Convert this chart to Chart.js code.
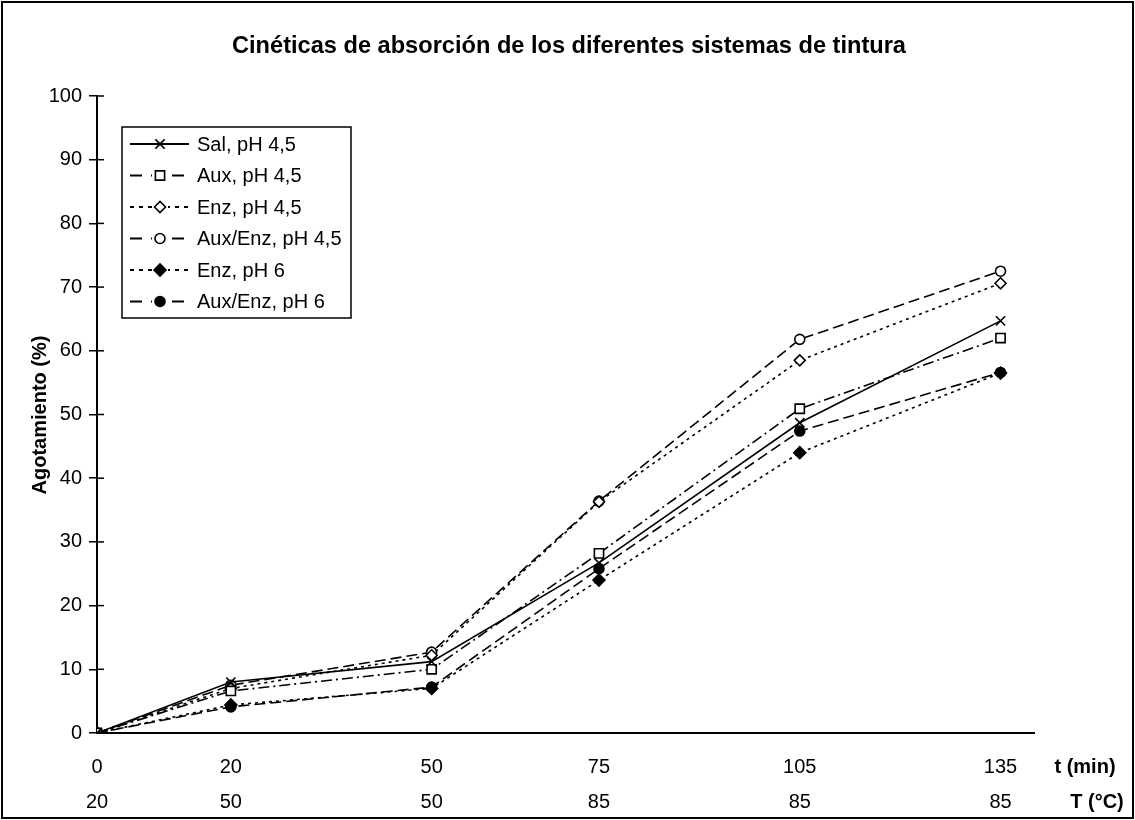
<!DOCTYPE html>
<html>
<head>
<meta charset="utf-8">
<script src="https://cdn.jsdelivr.net/npm/chart.js@4.4.1/dist/chart.umd.min.js"></script>
<style>
  html, body { margin: 0; padding: 0; background: #fff; }
  #wrap { width: 1135px; height: 820px; position: relative; }
</style>
</head>
<body>
<div id="wrap"><canvas id="chart" width="1135" height="820"></canvas></div>
<script>
// ---- data ----
const tLabels = [0, 20, 50, 75, 105, 135];      // t (min)
const TLabels = [20, 50, 50, 85, 85, 85];       // T (°C)
const yTicks = [0, 10, 20, 30, 40, 50, 60, 70, 80, 90, 100];

const seriesNames = ['Sal, pH 4,5', 'Aux, pH 4,5', 'Enz, pH 4,5', 'Aux/Enz, pH 4,5', 'Enz, pH 6', 'Aux/Enz, pH 6'];
const sal45    = [0, 8.0, 11.2, 26.7, 48.7, 64.7];
const aux45    = [0, 6.6, 10.0, 28.2, 50.9, 62.0];
const enz45    = [0, 7.0, 12.2, 36.3, 58.5, 70.6];
const auxEnz45 = [0, 7.5, 12.7, 36.4, 61.8, 72.5];
const enz6     = [0, 4.4, 7.0, 24.0, 44.0, 56.5];
const auxEnz6  = [0, 4.1, 7.2, 25.8, 47.4, 56.6];

const FONT = "'Liberation Sans', Arial, sans-serif";

// style per series: marker, fill, dash
const styles = [
  { pointStyle: 'crossRot', fill: '#000', dash: [],            radius: 6.5, legendDash: [] },
  { pointStyle: 'rect',     fill: '#fff', dash: [11, 4, 2, 4], radius: 6.5, legendDash: [12, 9] },
  { pointStyle: 'rectRot',  fill: '#fff', dash: [3, 4],        radius: 5.5, legendDash: [4, 5] },
  { pointStyle: 'circle',   fill: '#fff', dash: [11, 5],       radius: 5,   legendDash: [12, 9] },
  { pointStyle: 'rectRot',  fill: '#000', dash: [3, 4],        radius: 6,   legendDash: [4, 5] },
  { pointStyle: 'circle',   fill: '#000', dash: [11, 5],       radius: 5,   legendDash: [12, 9] }
];
const allSeries = [sal45, aux45, enz45, auxEnz45, enz6, auxEnz6];

const datasets = allSeries.map((vals, i) => ({
  label: seriesNames[i],
  data: vals.map((v, j) => ({ x: tLabels[j], y: v })),
  borderColor: '#000',
  borderWidth: 1.6,
  borderDash: styles[i].dash,
  pointStyle: styles[i].pointStyle,
  pointRadius: styles[i].radius,
  pointBackgroundColor: styles[i].fill,
  pointBorderColor: '#000',
  pointBorderWidth: 1.6,
  tension: 0,
  fill: false
}));

// extra drawing: frame, title, axis titles, inner ticks, legend
const decorations = {
  id: 'decorations',
  afterDraw(chart) {
    const ctx = chart.ctx;
    const y = chart.scales.y;
    const x = chart.scales.x;
    ctx.save();

    // outer frame
    ctx.strokeStyle = '#000';
    ctx.lineWidth = 2;
    ctx.strokeRect(2, 2, 1131, 816);

    // inner half of the y tick marks
    ctx.lineWidth = 1.5;
    yTicks.forEach(v => {
      const py = y.getPixelForValue(v);
      ctx.beginPath();
      ctx.moveTo(x.left, py);
      ctx.lineTo(x.left + 7, py);
      ctx.stroke();
    });

    ctx.fillStyle = '#000';
    // title
    ctx.font = 'bold 23.6px ' + FONT;
    ctx.textAlign = 'center';
    ctx.textBaseline = 'middle';
    ctx.fillText('Cinéticas de absorción de los diferentes sistemas de tintura', 569, 46);

    // y title
    ctx.save();
    ctx.translate(40, 415);
    ctx.rotate(-Math.PI / 2);
    ctx.font = 'bold 20px ' + FONT;
    ctx.fillText('Agotamiento (%)', 0, 0);
    ctx.restore();

    // x row titles
    ctx.font = 'bold 20px ' + FONT;
    ctx.textAlign = 'center';
    ctx.fillText('t (min)', 1085, 767);
    ctx.fillText('T (°C)', 1097, 802);

    // legend
    const lx = 122, ly = 127, lw = 229, lh = 191;
    ctx.fillStyle = '#fff';
    ctx.fillRect(lx, ly, lw, lh);
    ctx.strokeStyle = '#000';
    ctx.lineWidth = 1.5;
    ctx.strokeRect(lx, ly, lw, lh);
    ctx.font = '20px ' + FONT;
    ctx.textAlign = 'left';
    chart.data.datasets.forEach((ds, i) => {
      const ry = 144 + i * 31.5;
      ctx.save();
      ctx.strokeStyle = '#000';
      ctx.lineWidth = 2;
      ctx.setLineDash(styles[i].legendDash);
      ctx.beginPath();
      ctx.moveTo(130, ry);
      ctx.lineTo(189, ry);
      ctx.stroke();
      ctx.restore();
      ctx.save();
      if (i > 0) {
        ctx.fillStyle = '#fff';
        ctx.fillRect(152, ry - 6, 16, 12);
      }
      ctx.fillStyle = ds.pointBackgroundColor;
      ctx.strokeStyle = '#000';
      ctx.lineWidth = 1.6;
      Chart.helpers.drawPoint(ctx, { pointStyle: ds.pointStyle, radius: ds.pointRadius, rotation: 0, borderWidth: 1.6 }, 160, ry);
      ctx.restore();
      ctx.fillStyle = '#000';
      ctx.fillText(ds.label, 197, ry + 1);
    });

    ctx.restore();
  }
};

const tickFont = { family: FONT, size: 20 };

new Chart(document.getElementById('chart'), {
  type: 'line',
  data: { datasets },
  plugins: [decorations],
  options: {
    responsive: false,
    animation: false,
    layout: { padding: { left: 0, top: 96, right: 101, bottom: 0 } },
    plugins: {
      legend: { display: false },
      title: { display: false },
      tooltip: { enabled: false }
    },
    scales: {
      x: {
        type: 'linear',
        position: 'bottom',
        min: 0,
        max: 140,
        afterBuildTicks: s => { s.ticks = tLabels.map(v => ({ value: v })); },
        afterFit: s => { s.height = 52; },
        ticks: { color: '#000', font: tickFont, padding: 22, maxRotation: 0, autoSkip: false,
                 callback: v => String(v) },
        grid: { display: false, drawTicks: false, tickLength: 0 },
        border: { display: true, color: '#000', width: 2 }
      },
      x2: {
        type: 'linear',
        position: 'bottom',
        min: 0,
        max: 140,
        afterBuildTicks: s => { s.ticks = tLabels.map(v => ({ value: v })); },
        afterFit: s => { s.height = 35; },
        ticks: { color: '#000', font: tickFont, padding: 5, maxRotation: 0, autoSkip: false,
                 callback: (v) => String(TLabels[tLabels.indexOf(v)]) },
        grid: { display: false, drawTicks: false, tickLength: 0 },
        border: { display: false }
      },
      y: {
        min: 0,
        max: 100,
        afterBuildTicks: s => { s.ticks = yTicks.map(v => ({ value: v })); },
        afterFit: s => { s.width = 97; },
        ticks: { color: '#000', font: tickFont, padding: 7 },
        grid: { display: true, drawOnChartArea: false, drawTicks: true, tickLength: 8, color: '#000', lineWidth: 1.5 },
        border: { display: true, color: '#000', width: 2 }
      }
    }
  }
});
</script>
</body>
</html>
